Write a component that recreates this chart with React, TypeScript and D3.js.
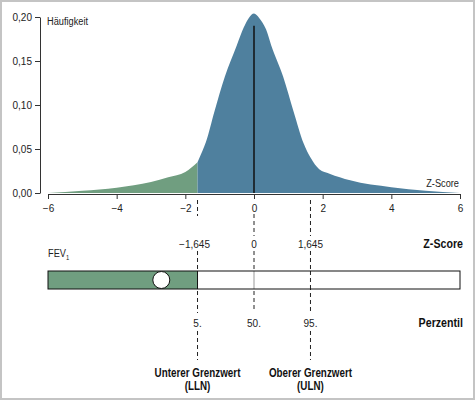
import React, { useEffect, useRef } from 'react';
import * as d3 from 'd3';

// density curve (z-score, Häufigkeit)
const zValues = [-6, -5, -4, -3, -2.5, -2, -1.645, -1.5, -1.4, -1.15, -0.85, -0.5, -0.3, -0.15, 0, 0.15, 0.35, 0.5, 0.85, 1.15, 1.45, 1.65, 1.9, 2.2, 2.8, 4, 5, 6];
const densities = [0, 0.0025, 0.006, 0.0125, 0.018, 0.024, 0.035, 0.048, 0.058, 0.093, 0.132, 0.168, 0.188, 0.199, 0.204, 0.199, 0.186, 0.168, 0.132, 0.093, 0.056, 0.04, 0.027, 0.022, 0.0145, 0.0066, 0.0025, 0];

const xTicks = [-6, -4, -2, 0, 2, 4, 6];
const yTicks = [0, 0.05, 0.1, 0.15, 0.2];

const limits = [-1.645, 0, 1.645];
const limitLabels = ['−1,645', '0', '1,645'];
const percentiles = ['5.', '50.', '95.'];
const limitNames = [['Unterer Grenzwert', '(LLN)'], null, ['Oberer Grenzwert', '(ULN)']];

const medianTop = 0.19;
const patientZ = -2.7;

const green = '#709e80';
const blue = '#4f809e';
const font = '"Liberation Sans", Arial, sans-serif';

type Sel = d3.Selection<SVGSVGElement, unknown, null, undefined>;

// condensed-looking label: the reference uses a narrow face
function label(svg: Sel, x: number, y: number, text: string, size: number, bold = false, anchor = 'start', squeeze = 0.84) {
  return svg.append('text')
    .attr('transform', `translate(${x},${y}) scale(${squeeze},1)`)
    .attr('text-anchor', anchor)
    .attr('font-family', font)
    .attr('font-size', size)
    .attr('font-weight', bold ? 'bold' : 'normal')
    .attr('fill', bold ? '#111' : '#222')
    .text(text);
}

const App: React.FC = () => {
  const svgRef = useRef<SVGSVGElement | null>(null);

  useEffect(() => {
    if (!svgRef.current) return;
    const svg = d3.select(svgRef.current) as Sel;
    svg.selectAll('*').remove();

    const width = 475;
    const height = 400;

    const x = d3.scaleLinear().domain([-6, 6]).range([48, 460]);
    const y = d3.scaleLinear().domain([0, 0.2]).range([193, 17]);

    const de = d3.formatLocale({ decimal: ',', thousands: '.', grouping: [3], currency: ['', '€'] });

    // frame
    svg.append('rect')
      .attr('x', 1).attr('y', 1)
      .attr('width', width - 2).attr('height', height - 2)
      .attr('fill', 'white')
      .attr('stroke', '#c4c4c4')
      .attr('stroke-width', 2);

    const pts = zValues.map((z, i) => ({ z, d: densities[i] }));
    const area = d3.area<{ z: number; d: number }>()
      .x(p => x(p.z))
      .y0(y(0))
      .y1(p => y(p.d))
      .curve(d3.curveMonotoneX);

    svg.append('path')
      .datum(pts.filter(p => p.z <= limits[0]))
      .attr('d', area)
      .attr('fill', green);
    svg.append('path')
      .datum(pts.filter(p => p.z >= limits[0]))
      .attr('d', area)
      .attr('fill', blue);

    // median line
    svg.append('line')
      .attr('x1', x(0)).attr('x2', x(0))
      .attr('y1', y(medianTop)).attr('y2', y(0))
      .attr('stroke', '#111')
      .attr('stroke-width', 1.5);

    // axes
    const xAxis = svg.append('g')
      .attr('transform', `translate(0,${y(0) + 1})`)
      .call(d3.axisBottom(x).tickValues(xTicks).tickSize(5).tickSizeOuter(0).tickFormat(de.format('d')));
    const yAxis = svg.append('g')
      .attr('transform', 'translate(40,0)')
      .call(d3.axisLeft(y).tickValues(yTicks).tickSize(5).tickSizeOuter(0).tickFormat(de.format('.2f')));
    [xAxis, yAxis].forEach(a => {
      a.selectAll('path, line').attr('stroke', '#333');
      a.selectAll('text').attr('font-family', font).attr('font-size', 10).attr('fill', '#222');
    });
    xAxis.selectAll('text').attr('dy', '0.95em');

    label(svg, 47, 25, 'Häufigkeit', 11);
    label(svg, 459, 187, 'Z-Score', 11, false, 'end');

    // dashed guide lines
    const segments: number[][][] = [
      [[200, 216], [251, 271], [291, 313], [331, 360]],
      [[214, 236], [251, 271], [291, 311]],
      [[200, 236], [251, 313], [331, 360]],
    ];
    limits.forEach((z, i) => {
      segments[i].forEach(([a, b]) => {
        svg.append('line')
          .attr('x1', x(z)).attr('x2', x(z))
          .attr('y1', a).attr('y2', b)
          .attr('stroke', '#222')
          .attr('stroke-dasharray', '4,3');
      });
    });

    // z-score, percentile and limit labels
    limits.forEach((z, i) => {
      label(svg, x(z) - (i === 0 ? 3 : 0), 248, limitLabels[i], 10, false, 'middle', 1);
      label(svg, x(z), 327, percentiles[i], 10, false, 'middle', 1);
      const nm = limitNames[i];
      if (nm) nm.forEach((t, k) => label(svg, x(z), 377 + k * 13, t, 12, true, 'middle', 0.82));
    });

    label(svg, 463, 248, 'Z-Score', 13, true, 'end', 0.82);
    label(svg, 463, 327, 'Perzentil', 13, true, 'end', 0.82);

    // FEV1 bar
    const fev = label(svg, 48, 257, '', 11);
    fev.append('tspan').text('FEV');
    fev.append('tspan').attr('font-size', 7).attr('dy', 3).text('1');

    const barTop = 271;
    const barH = 18;
    svg.append('rect')
      .attr('x', x(-6)).attr('y', barTop)
      .attr('width', x(6) - x(-6)).attr('height', barH)
      .attr('fill', 'white');
    svg.append('rect')
      .attr('x', x(-6)).attr('y', barTop)
      .attr('width', x(limits[0]) - x(-6)).attr('height', barH)
      .attr('fill', green);
    svg.append('line')
      .attr('x1', x(0)).attr('x2', x(0))
      .attr('y1', barTop).attr('y2', barTop + barH)
      .attr('stroke', '#999');
    svg.append('line')
      .attr('x1', x(limits[2])).attr('x2', x(limits[2]))
      .attr('y1', barTop).attr('y2', barTop + barH)
      .attr('stroke', '#222')
      .attr('stroke-dasharray', '4,3');
    svg.append('line')
      .attr('x1', x(limits[0])).attr('x2', x(limits[0]))
      .attr('y1', barTop).attr('y2', barTop + barH)
      .attr('stroke', '#111');
    svg.append('rect')
      .attr('x', x(-6)).attr('y', barTop)
      .attr('width', x(6) - x(-6)).attr('height', barH)
      .attr('fill', 'none')
      .attr('stroke', '#111');
    svg.append('circle')
      .attr('cx', x(patientZ)).attr('cy', barTop + barH / 2)
      .attr('r', 8.5)
      .attr('fill', 'white')
      .attr('stroke', '#111');
  }, []);

  return <svg ref={svgRef} width={475} height={400} style={{ position: 'absolute', left: 0, top: 0 }} />;
};

export default App;
